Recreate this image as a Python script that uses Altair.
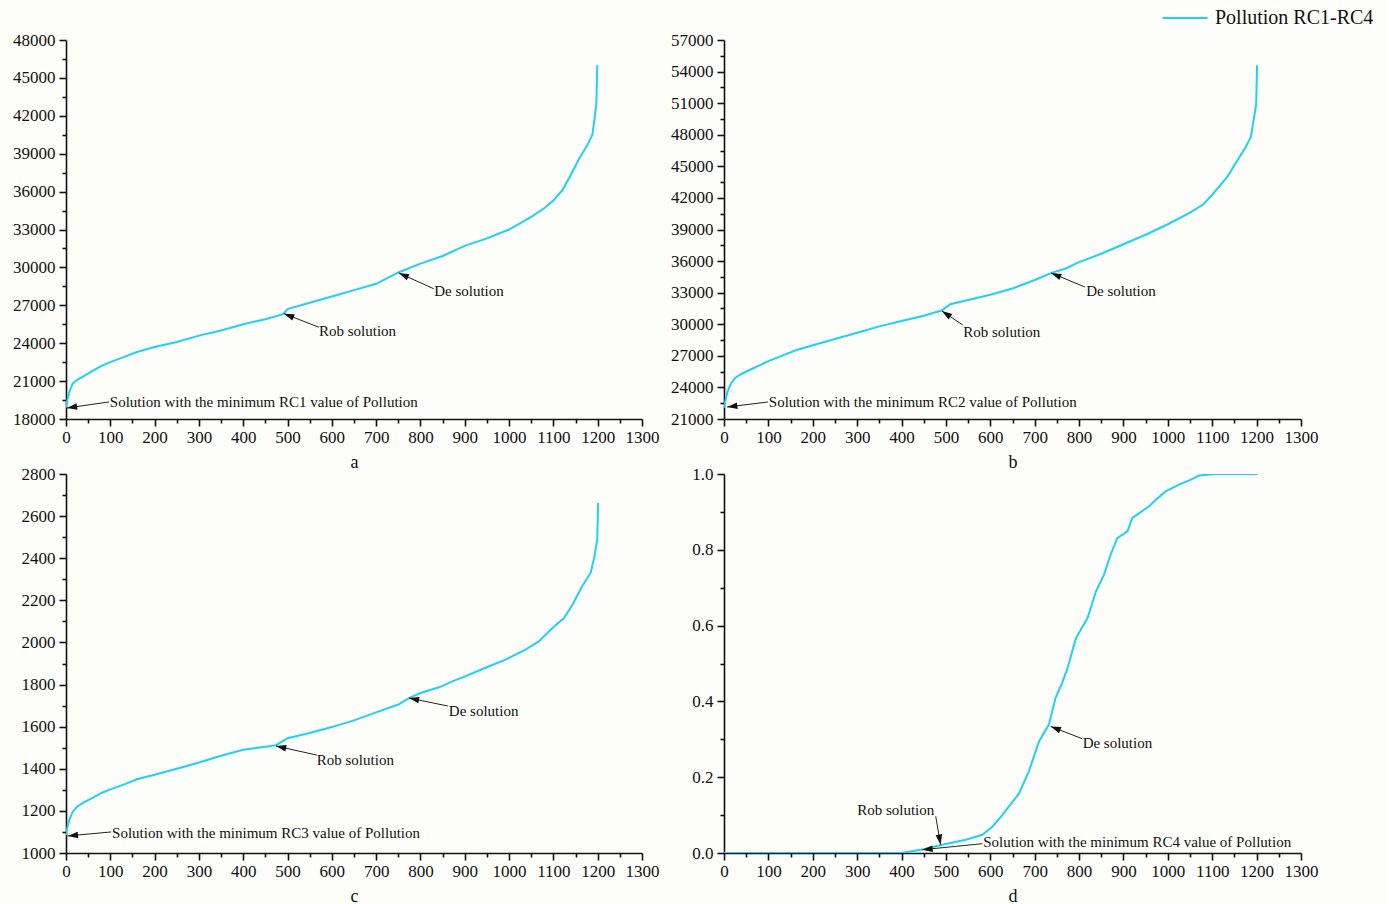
import math
import pandas as pd
import altair as alt

FONT = "Liberation Serif"
CYAN = "#21d0f2"
SERIES = "Pollution RC1-RC4"

# ---------------- curve data ----------------
A_X = [0, 3, 8, 15, 25, 40, 60, 80, 100, 130, 160, 200, 250, 300, 350, 400, 450, 490, 500,
       550, 600, 650, 700, 750, 800, 850, 900, 950, 1000, 1050, 1080, 1100, 1120, 1139, 1158,
       1170, 1177, 1188, 1193, 1197, 1199]
A_Y = [18900, 19500, 20200, 20800, 21100, 21400, 21800, 22200, 22500, 22900, 23300, 23700,
       24100, 24600, 25000, 25500, 25900, 26300, 26700, 27200, 27700, 28200, 28700, 29600,
       30300, 30900, 31700, 32300, 33000, 34000, 34700, 35300, 36100, 37300, 38600, 39300,
       39700, 40500, 41800, 43000, 46000]

B_X = [0, 3, 8, 15, 25, 40, 60, 80, 100, 130, 160, 200, 250, 300, 350, 400, 450, 490, 510,
       550, 600, 650, 700, 740, 770, 800, 850, 900, 950, 1000, 1050, 1080, 1100, 1134, 1160,
       1175, 1187, 1194, 1199, 1201]
B_Y = [22100, 22700, 23600, 24300, 24900, 25300, 25700, 26100, 26500, 27000, 27500, 28000,
       28600, 29200, 29800, 30300, 30800, 31300, 31900, 32300, 32800, 33400, 34200, 34900,
       35300, 35900, 36700, 37600, 38500, 39500, 40600, 41400, 42300, 44000, 45800, 46800,
       47800, 49600, 50900, 54600]

C_X = [0, 3, 8, 15, 25, 40, 60, 80, 100, 130, 160, 200, 250, 300, 350, 400, 450, 474, 500,
       550, 600, 650, 700, 750, 774, 800, 842, 872, 902, 955, 992, 1037, 1067, 1098, 1124,
       1143, 1165, 1184, 1192, 1199, 1201]
C_Y = [1085, 1120, 1160, 1195, 1220, 1240, 1262, 1285, 1302, 1325, 1350, 1372, 1400, 1430,
       1462, 1490, 1505, 1512, 1545, 1570, 1598, 1630, 1668, 1705, 1736, 1760, 1787, 1815,
       1840, 1887, 1918, 1966, 2005, 2069, 2116, 2179, 2267, 2330, 2401, 2488, 2662]

D_X = [0, 400, 409, 450, 484, 545, 582, 605, 627, 665, 687, 710, 732, 747, 762, 774, 793, 819,
       838, 856, 871, 886, 909, 920, 958, 973, 995, 1025, 1052, 1070, 1108, 1202]
D_Y = [0, 0, 0.002, 0.01, 0.02, 0.035, 0.048, 0.07, 0.10, 0.158, 0.216, 0.295, 0.339, 0.409,
       0.449, 0.488, 0.567, 0.62, 0.69, 0.734, 0.787, 0.831, 0.849, 0.884, 0.915, 0.932,
       0.954, 0.972, 0.985, 0.996, 1.0, 1.0]

# ---------------- tick values ----------------
X_MAJOR = [0, 100, 200, 300, 400, 500, 600, 700, 800, 900, 1000, 1100, 1200, 1300]
A_YMAJOR = [18000, 21000, 24000, 27000, 30000, 33000, 36000, 39000, 42000, 45000, 48000]
B_YMAJOR = [21000, 24000, 27000, 30000, 33000, 36000, 39000, 42000, 45000, 48000, 51000,
            54000, 57000]
C_YMAJOR = [1000, 1200, 1400, 1600, 1800, 2000, 2200, 2400, 2600, 2800]
D_YMAJOR = [0.0, 0.2, 0.4, 0.6, 0.8, 1.0]

# ---------------- annotations ----------------
A_ANN = dict(
    text=["Solution with the minimum RC1 value of Pollution", "Rob solution", "De solution"],
    tx=[99, 571, 831], ty=[19350, 24966, 28130],
    sx=[97, 571, 830], sy=[19350, 25260, 28310],
    px=[2, 492, 751], py=[18870, 26340, 29560])
B_ANN = dict(
    text=["Solution with the minimum RC2 value of Pollution", "Rob solution", "De solution"],
    tx=[101, 539, 816], ty=[22615, 29264, 33160],
    sx=[99, 538, 813], sy=[22615, 29930, 33540],
    px=[7, 491, 737], py=[22140, 31260, 34870])
C_ANN = dict(
    text=["Solution with the minimum RC3 value of Pollution", "Rob solution", "De solution"],
    tx=[104, 566, 864], ty=[1095, 1442, 1674],
    sx=[102, 566, 862], sy=[1100, 1465, 1698],
    px=[4, 474, 774], py=[1081, 1508, 1736])
D_ANN = dict(
    text=["Rob solution", "Solution with the minimum RC4 value of Pollution", "De solution"],
    tx=[300, 584, 808], ty=[0.1135, 0.029, 0.290],
    sx=[477, 582, 807], sy=[0.0968, 0.0245, 0.3016],
    px=[488, 447, 736], py=[0.0219, 0.0087, 0.334])

H = 379
ARROW = "M0,0L-1,-0.32L-1,0.32Z"
LEGEND_LINE = "M-3,0L3,0"


def with_minor(major):
    out = []
    for i, v in enumerate(major):
        out.append(v)
        if i + 1 < len(major):
            out.append(round((v + major[i + 1]) / 2, 6))
    return out


def panel(xs, ys, ymajor, yfmt, letter, ann, width):
    ymin, ymax = ymajor[0], ymajor[-1]
    ystep = ymajor[1] - ymajor[0]
    df = pd.DataFrame({"x": xs, "y": ys, "series": [SERIES] * len(xs)})
    a = pd.DataFrame(ann)

    def tpx(x):
        return x / 1300 * width

    def tpy(y):
        return (ymax - y) / (ymax - ymin) * H

    a["ang"] = [
        math.degrees(math.atan2(tpy(p) - tpy(s), tpx(q) - tpx(r))) % 360
        for r, s, q, p in zip(a.sx, a.sy, a.px, a.py)
    ]

    xs_scale = alt.Scale(domain=[0, 1300], nice=False, zero=False)
    ys_scale = alt.Scale(domain=[ymin, ymax], nice=False, zero=False)

    xtest = "datum.value % 100 === 0"
    ytest = f"abs((datum.value - ({ymin})) / {ystep} - round((datum.value - ({ymin})) / {ystep})) < 0.001"

    xaxis = alt.Axis(
        values=with_minor(X_MAJOR), title=letter, format="d",
        labelExpr=f"{xtest} ? datum.label : ''",
        tickSize={"condition": {"test": xtest, "value": 7}, "value": 4},
        labelPadding=3, titlePadding=8, labelOverlap=False, labelFlush=False,
    )
    yaxis = alt.Axis(
        values=with_minor(ymajor), title=None, format=yfmt,
        labelExpr=f"{ytest} ? datum.label : ''",
        tickSize={"condition": {"test": ytest, "value": 7}, "value": 4},
        labelPadding=4, labelOverlap=False, labelFlush=False,
    )

    legend = alt.Legend(
        title=None, orient="none", legendX=1109, legendY=-32,
        symbolType=LEGEND_LINE, symbolSize=225, symbolStrokeWidth=2,
        labelFont=FONT, labelFontSize=20, labelColor="#111", labelOffset=20,
        padding=0,
    )

    line = alt.Chart(df).mark_line(strokeWidth=2, clip=True).encode(
        x=alt.X("x:Q", scale=xs_scale, axis=xaxis),
        y=alt.Y("y:Q", scale=ys_scale, axis=yaxis),
        color=alt.Color("series:N",
                        scale=alt.Scale(domain=[SERIES], range=[CYAN]),
                        legend=legend),
    )
    rules = alt.Chart(a).mark_rule(color="#222", strokeWidth=1).encode(
        x=alt.X("sx:Q", scale=xs_scale, axis=xaxis),
        y=alt.Y("sy:Q", scale=ys_scale, axis=yaxis),
        x2="px:Q", y2="py:Q",
    )
    heads = alt.Chart(a).mark_point(shape=ARROW, filled=True, color="#111", size=420,
                                    opacity=1).encode(
        x=alt.X("px:Q", scale=xs_scale, axis=xaxis),
        y=alt.Y("py:Q", scale=ys_scale, axis=yaxis),
        angle=alt.Angle("ang:Q", scale=None),
    )
    texts = alt.Chart(a).mark_text(align="left", baseline="middle", font=FONT,
                                   fontSize=15, color="#111").encode(
        x=alt.X("tx:Q", scale=xs_scale, axis=xaxis),
        y=alt.Y("ty:Q", scale=ys_scale, axis=yaxis),
        text="text:N",
    )
    return alt.layer(line, rules, heads, texts).properties(width=width, height=H)


pa = panel(A_X, A_Y, A_YMAJOR, "d", "a", A_ANN, 576)
pb = panel(B_X, B_Y, B_YMAJOR, "d", "b", B_ANN, 577)
pc = panel(C_X, C_Y, C_YMAJOR, "d", "c", C_ANN, 576)
pd_ = panel(D_X, D_Y, D_YMAJOR, ".1f", "d", D_ANN, 577)

chart = alt.concat(
    pa, pb, pc, pd_, columns=2, spacing={"row": 55, "column": 82}, bounds="flush"
).properties(
    background="#fdfdf9",
    padding={"left": 12, "top": 8, "right": 12, "bottom": 5},
).configure_view(stroke=None).configure_axis(
    domainColor="#111", domainWidth=1.6, tickColor="#111", tickWidth=1.6,
    labelFont=FONT, labelFontSize=17, labelColor="#111",
    titleFont=FONT, titleFontSize=18, titleFontWeight="normal", titleColor="#111",
    grid=False,
)

chart.save("out.html", embed_options={"renderer": "svg", "actions": False})
